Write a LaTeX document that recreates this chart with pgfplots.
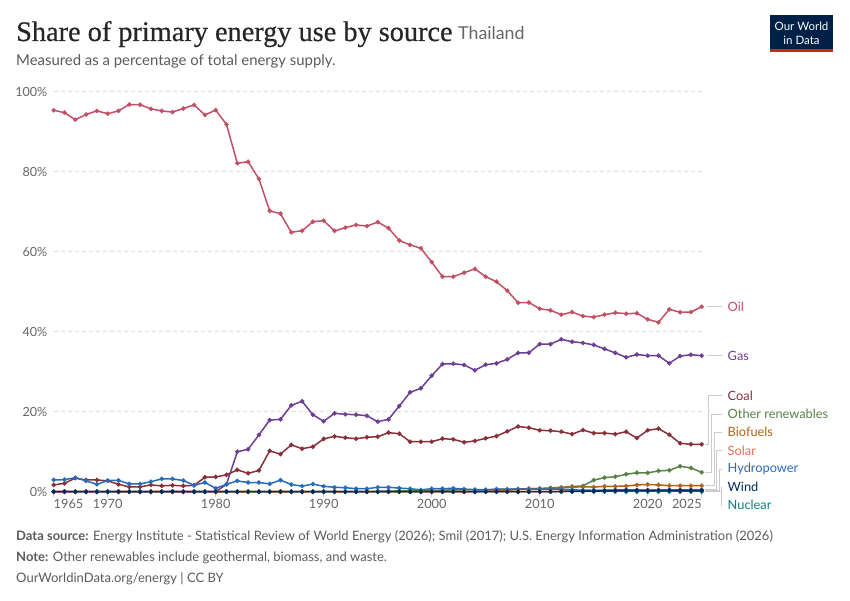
\documentclass[border=0pt]{standalone}
\usepackage{pgfplots}
\pgfplotsset{compat=1.18}
\usepackage{pgfplotstable}
\usepackage{fontspec}
\setmainfont{Lato}
\newfontfamily\titlefont{Liberation Serif}[FakeBold=0.5]
\definecolor{oil}{HTML}{C15065}
\definecolor{gas}{HTML}{6D3E91}
\definecolor{coal}{HTML}{883039}
\definecolor{other}{HTML}{578145}
\definecolor{bio}{HTML}{B16214}
\definecolor{solar}{HTML}{E56E5A}
\definecolor{hydro}{HTML}{286BBB}
\definecolor{wind}{HTML}{00295B}
\definecolor{nuclear}{HTML}{00847E}
\definecolor{owidnavy}{HTML}{002147}
\definecolor{owidred}{HTML}{CE261E}
\definecolor{txtgray}{HTML}{5B5B5B}
\definecolor{tickgray}{HTML}{666666}
\definecolor{gridgray}{HTML}{DDDDDD}
\definecolor{conn}{HTML}{CCCCCC}

\pgfplotstableread{
year oil gas coal other bio solar hydro wind nuclear
1965 95.35 0 1.7 0 0 0 2.95 0 0
1966 94.75 0 2.1 0 0 0 3.0 0 0
1967 93.0 0 3.4 0 0 0 3.5 0 0
1968 94.3 0 2.95 0 0 0 2.7 0 0
1969 95.2 0 2.95 0 0 0 1.85 0 0
1970 94.5 0 2.7 0 0 0 2.8 0 0
1971 95.2 0 1.85 0 0 0 2.85 0 0
1972 96.8 0 1.2 0 0 0 1.95 0 0
1973 96.75 0 1.2 0 0 0 1.95 0 0
1974 95.7 0 1.7 0 0 0 2.5 0 0
1975 95.2 0 1.45 0 0 0 3.2 0 0
1976 94.9 0 1.6 0 0 0 3.2 0 0
1977 95.8 0 1.45 0 0 0 2.8 0 0
1978 96.7 0 1.6 0 0 0 1.6 0 0
1979 94.2 0 3.6 0 0 0 2.3 0 0
1980 95.4 0 3.7 0 0 0 0.85 0 0
1981 91.8 1.85 4.2 0 0 0 1.85 0 0
1982 82.1 10.0 5.45 0 0 0 2.7 0 0
1983 82.5 10.6 4.6 0 0 0 2.3 0 0
1984 78.2 14.2 5.3 0 0 0 2.3 0 0
1985 70.2 17.9 10.2 0 0 0 1.95 0 0
1986 69.5 18.1 9.4 0 0 0 2.9 0 0
1987 64.85 21.6 11.7 0 0 0 1.8 0 0
1988 65.25 22.6 10.75 0 0 0 1.4 0 0
1989 67.5 19.25 11.25 0 0 0 1.9 0 0
1990 67.75 17.6 13.2 0 0 0 1.35 0 0
1991 65.2 19.6 13.85 0 0 0 1.1 0 0
1992 66.0 19.35 13.5 0 0 0 1.0 0 0
1993 66.7 19.25 13.25 0 0 0 0.75 0 0
1994 66.4 19.0 13.6 0 0 0 0.75 0 0
1995 67.4 17.5 13.75 0.1 0 0 1.1 0 0
1996 65.9 18.1 14.75 0.15 0 0 1.1 0 0
1997 62.8 21.4 14.5 0.2 0 0 0.9 0 0
1998 61.7 24.85 12.5 0.2 0 0 0.75 0 0
1999 60.85 25.85 12.5 0.25 0 0 0.45 0 0
2000 57.4 29.0 12.5 0.3 0 0 0.75 0 0
2001 53.75 31.9 13.25 0.4 0 0 0.75 0 0
2002 53.75 32.0 13.1 0.45 0 0 0.85 0 0
2003 54.75 31.7 12.35 0.5 0 0 0.65 0 0
2004 55.7 30.35 12.7 0.5 0 0 0.5 0 0
2005 53.75 31.75 13.35 0.5 0.1 0 0.45 0 0
2006 52.5 32.1 13.9 0.55 0.2 0 0.65 0 0
2007 50.25 33.1 15.1 0.6 0.35 0 0.6 0 0
2008 47.25 34.7 16.3 0.65 0.6 0 0.65 0 0
2009 47.3 34.75 16.0 0.75 0.75 0 0.6 0 0
2010 45.75 36.9 15.35 0.8 0.75 0 0.65 0 0
2011 45.35 36.9 15.25 0.95 0.8 0 0.65 0.02 0
2012 44.25 38.1 15.0 1.1 0.95 0.1 0.6 0.05 0
2013 44.9 37.5 14.4 1.3 1.1 0.15 0.45 0.1 0
2014 43.9 37.2 15.4 1.45 1.25 0.25 0.4 0.12 0
2015 43.65 36.7 14.65 2.9 1.15 0.3 0.35 0.15 0
2016 44.25 35.7 14.65 3.5 1.35 0.35 0.35 0.2 0
2017 44.75 34.7 14.4 3.75 1.35 0.4 0.45 0.25 0
2018 44.5 33.6 15.0 4.35 1.4 0.4 0.5 0.3 0
2019 44.6 34.3 13.4 4.75 1.7 0.4 0.45 0.3 0
2020 43.1 34.0 15.35 4.7 1.8 0.45 0.35 0.3 0
2021 42.35 34.0 15.75 5.2 1.7 0.45 0.4 0.3 0
2022 45.6 32.1 14.25 5.35 1.5 0.45 0.5 0.3 0
2023 44.85 33.9 12.1 6.35 1.5 0.45 0.45 0.3 0
2024 44.9 34.25 11.85 5.95 1.5 0.5 0.45 0.3 0
2025 46.25 34.0 11.85 4.85 1.5 0.5 0.45 0.3 0
}\energy

\begin{document}
\begin{tikzpicture}[x=1pt,y=1pt]
\path[use as bounding box] (0,0) rectangle (850,600);

% title block
\node[anchor=base west, inner sep=0, text=black!85] at (16,600-41) {\titlefont\fontsize{28.3}{32}\selectfont Share of primary energy use by source};
\node[anchor=base west, inner sep=0, text=tickgray] at (458,600-40) {\fontsize{17.8}{20}\selectfont Thailand};
\node[anchor=base west, inner sep=0, text=txtgray] at (16,600-66) {\fontsize{14.9}{17}\selectfont Measured as a percentage of total energy supply.};

% logo
\fill[owidnavy] (770,600-15) rectangle (833,600-49);
\fill[owidred] (770,600-49) rectangle (833,600-52);
\node[text=white, inner sep=0] at (801.5,600-26) {\fontsize{11.5}{13}\selectfont Our World};
\node[text=white, inner sep=0] at (801.5,600-40) {\fontsize{11.5}{13}\selectfont in Data};

\begin{axis}[
  at={(53.7pt,108.3pt)}, anchor=south west,
  scale only axis, width=648pt, height=400pt,
  xmin=1965, xmax=2025, ymin=0, ymax=100,
  axis line style={draw=none},
  ytick={0,20,40,60,80,100},
  yticklabels={0\%,20\%,40\%,60\%,80\%,100\%},
  ytick style={draw=none},
  yticklabel style={anchor=east, inner sep=0pt, xshift=-1.2pt, text=tickgray, font=\fontsize{12.6}{15}\selectfont},
  ymajorgrids, grid style={gridgray, line width=0.9pt, dash pattern=on 4pt off 3pt},
  xtick={1965,1970,1980,1990,2000,2010,2020,2025},
  xticklabels={\makebox[0pt][l]{1965},1970,1980,1990,2000,2010,2020,\makebox[0pt][r]{2025}},
  xtick pos=bottom, tick align=outside, major tick length=5pt,
  xtick style={conn, line width=0.8pt},
  xticklabel style={anchor=north, inner sep=0pt, yshift=-2pt, text=tickgray, font=\fontsize{12.8}{15}\selectfont},
  every axis plot/.append style={line width=1.5pt, mark=*, mark size=1.4pt},
  clip=false,
]
\addplot[oil] table[x=year,y=oil] {\energy};
\addplot[gas] table[x=year,y=gas] {\energy};
\addplot[coal] table[x=year,y=coal] {\energy};
\addplot[other] table[x=year,y=other] {\energy};
\addplot[bio] table[x=year,y=bio] {\energy};
\addplot[solar] table[x=year,y=solar] {\energy};
\addplot[hydro] table[x=year,y=hydro] {\energy};
\addplot[nuclear] table[x=year,y=nuclear] {\energy};
\addplot[wind] table[x=year,y=wind] {\energy};
\end{axis}

% connectors
\begin{scope}[conn, line width=0.9pt]
\draw (707,600-306.7) -- (722,600-306.7);
\draw (707,600-355.7) -- (722,600-355.7);
\draw (705,600-444.3) -- (708,600-444.3) -- (708,600-395.5) -- (722,600-395.5);
\draw (705,600-472.3) -- (711,600-472.3) -- (711,600-414) -- (722,600-414);
\draw (705,600-485.7) -- (714,600-485.7) -- (714,600-432.3) -- (722,600-432.3);
\draw (705,600-489.5) -- (716.5,600-489.5) -- (716.5,600-450.7) -- (722,600-450.7);
\draw (705,600-490.5) -- (719,600-490.5) -- (719,600-469) -- (722,600-469);
\draw (705,600-491.2) -- (721,600-491.2) -- (721,600-487) -- (722,600-487);
\draw (705,600-491.7) -- (721,600-491.7) -- (721,600-505.3) -- (722,600-505.3);
\end{scope}

% labels
\begin{scope}[every node/.style={anchor=west, inner sep=0, font=\fontsize{12.8}{15}\selectfont}]
\node[text=oil] at (727.5,600-307) {Oil};
\node[text=gas] at (727.5,600-356) {Gas};
\node[text=coal] at (727.5,600-395.5) {Coal};
\node[text=other] at (727.5,600-414) {Other renewables};
\node[text=bio] at (727.5,600-432.3) {Biofuels};
\node[text=solar] at (727.5,600-450.7) {Solar};
\node[text=hydro] at (727.5,600-469) {Hydropower};
\node[text=wind] at (727.5,600-487) {Wind};
\node[text=nuclear] at (727.5,600-505.3) {Nuclear};
\end{scope}

% footer
\begin{scope}[every node/.style={anchor=base west, inner sep=0, text=txtgray, font=\fontsize{13}{15}\selectfont}]
\node at (16,600-540) {\textbf{Data source:} Energy Institute - Statistical Review of World Energy (2026); Smil (2017); U.S. Energy Information Administration (2026)};
\node at (16,600-561) {\textbf{Note:} Other renewables include geothermal, biomass, and waste.};
\node at (16,600-582) {OurWorldinData.org/energy | CC BY};
\end{scope}
\end{tikzpicture}
\end{document}
